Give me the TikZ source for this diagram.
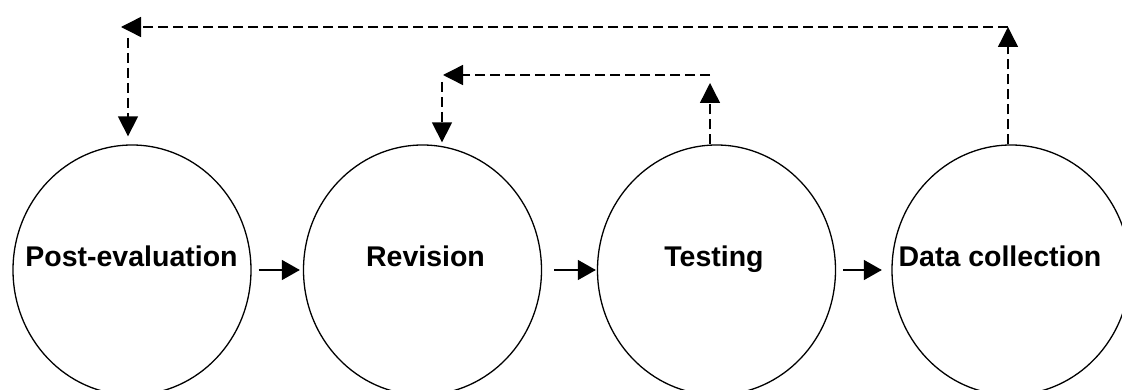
\documentclass[tikz,border=0pt]{standalone}
\usepackage{fontspec}
\setmainfont{Liberation Sans}
\usetikzlibrary{shapes.geometric,arrows.meta}

\tikzset{
  stage/.style={draw, ellipse, line width=1.3pt, inner sep=0pt,
                minimum width=238pt, minimum height=250pt},
  stagetext/.style={anchor=base, inner sep=0pt,
                    font=\fontsize{28.5pt}{32pt}\selectfont\bfseries},
  flow/.style={line width=1.3pt, -{Triangle[length=18pt,width=20pt]}},
  feedback/.style={line width=1.4pt, dash pattern=on 10pt off 5pt,
                   -{Triangle[length=20pt,width=20pt]}}
}

\begin{document}
\begin{tikzpicture}[x=1pt,y=1pt]
  \useasboundingbox (0,0) rectangle (1122,389);
  \clip (0,0) rectangle (1122,389);

  % the four stages
  \node[stage] (post) at (132,119)   {};
  \node[stage] (rev)  at (422.5,119) {};
  \node[stage] (test) at (716.5,119) {};
  \node[stage] (data) at (1011,119)  {};

  \node[stagetext] (postl) at (131.5,122.5) {Post-evaluation};
  \node[stagetext] (revl)  at (425.5,122.5) {Revision};
  \node[stagetext] (testl) at (714,122.5)   {Testing};
  \node[stagetext] (datal) at (1000,122.5)  {Data collection};

  % forward flow between stages
  \draw[flow, shorten <=7pt,  shorten >=3pt]   (post.east) -- (rev.west);
  \draw[flow, shorten <=12pt, shorten >=1pt]   (rev.east)  -- (test.west);
  \draw[flow, shorten <=7pt,  shorten >=9.5pt] (test.east) -- (data.west);

  % outer feedback loop: data collection back to post-evaluation
  \coordinate (outR)  at (1008,362);
  \coordinate (outL)  at (121,362);
  \coordinate (outD)  at (128,351);
  \draw[feedback] (outR |- data.north) -- (outR);
  \draw[feedback] (outR) -- (outL);
  \draw[feedback, shorten >=8pt] (outD) -- (outD |- post.north);

  % inner feedback loop: testing back to revision
  \coordinate (inUp)  at (710,306);
  \coordinate (inR)   at (710,314);
  \coordinate (inL)   at (443,314);
  \coordinate (inD)   at (442,307);
  \draw[feedback] (inUp |- test.north) -- (inUp);
  \draw[feedback] (inR) -- (inL);
  \draw[feedback, shorten >=2pt] (inD) -- (inD |- rev.north);
\end{tikzpicture}
\end{document}
